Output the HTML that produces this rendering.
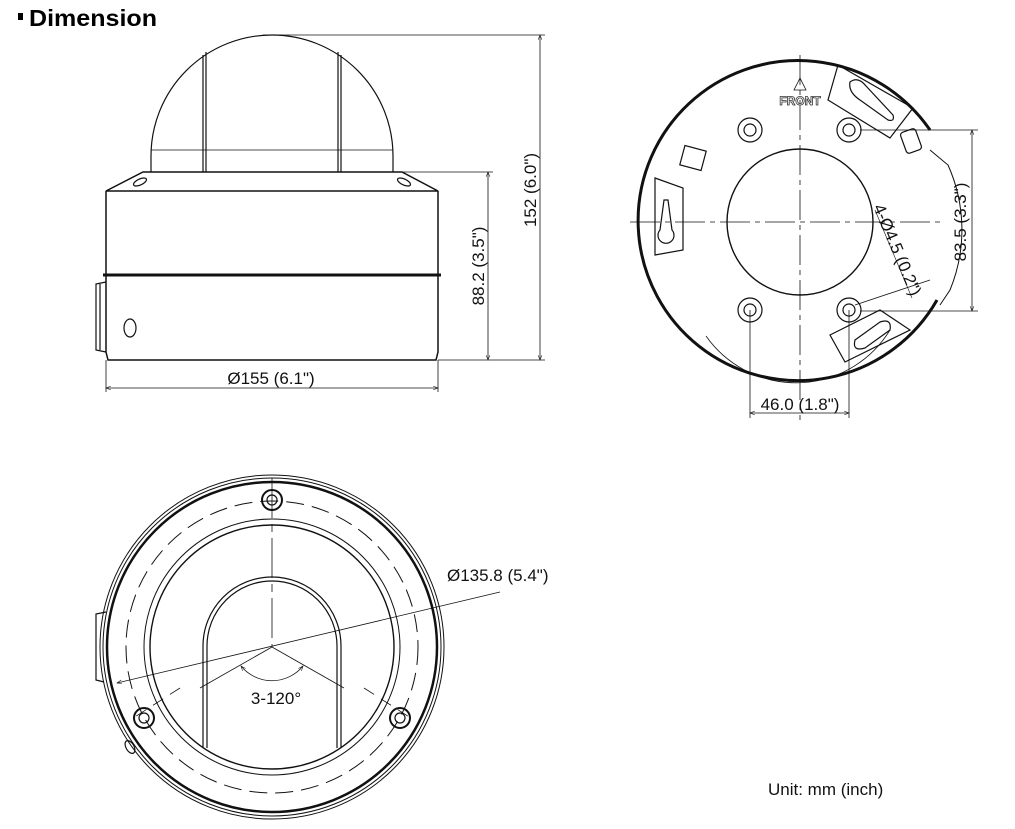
<!DOCTYPE html>
<html><head><meta charset="utf-8"><style>
html,body{margin:0;padding:0;background:#fff;}
svg{display:block;}
text{font-family:"Liberation Sans",sans-serif;fill:#111;}
</style></head><body>
<svg width="1015" height="829" viewBox="0 0 1015 829" xmlns="http://www.w3.org/2000/svg">
<defs>
<marker id="a" viewBox="0 0 10 10" refX="10" refY="5" markerWidth="8" markerHeight="6" orient="auto-start-reverse"><path d="M0,1 L10,5 L0,9" fill="none" stroke="#111" stroke-width="1.2"/></marker>
</defs>
<rect x="18" y="13" width="5" height="7" fill="#000"/>
<text x="29" y="26" font-size="23" font-weight="bold" style="fill:#000" textLength="128" lengthAdjust="spacingAndGlyphs">Dimension</text>

<g fill="none" stroke="#111" stroke-width="1.2">
<!-- side view -->
<path d="M151,172 L151,156 A121,121 0 0 1 393,156 L393,172"/>
<line x1="151" y1="150" x2="393" y2="150" stroke-width="0.8"/>
<line x1="203" y1="55" x2="203" y2="172"/><line x1="206" y1="52" x2="206" y2="172"/>
<line x1="338" y1="52" x2="338" y2="172"/><line x1="341" y1="55" x2="341" y2="172"/>
<path d="M143,172 L402,172 L438,191 L106,191 Z" stroke-width="1.5"/>
<ellipse cx="140" cy="182" rx="7" ry="3" transform="rotate(-25 140 182)"/>
<ellipse cx="404" cy="182" rx="7" ry="3" transform="rotate(25 404 182)"/>
<path d="M106,191 L106,352 L108,360 L436,360 L438,352 L438,191" stroke-width="1.5"/>
<line x1="103" y1="275" x2="441" y2="275" stroke-width="3"/>
<path d="M106,282 L96,284 L96,350 L106,352"/>
<line x1="100" y1="284" x2="100" y2="350"/>
<ellipse cx="130" cy="328" rx="6" ry="9"/>
<!-- dims -->
<line x1="263" y1="35" x2="545" y2="35" stroke-width="0.8"/>
<line x1="438" y1="360" x2="545" y2="360" stroke-width="0.8"/>
<line x1="402" y1="172" x2="493" y2="172" stroke-width="0.8"/>
<line x1="540" y1="35" x2="540" y2="360" stroke-width="0.8" marker-start="url(#a)" marker-end="url(#a)"/>
<line x1="488" y1="172" x2="488" y2="360" stroke-width="0.8" marker-start="url(#a)" marker-end="url(#a)"/>
<line x1="106" y1="360" x2="106" y2="392" stroke-width="0.8"/>
<line x1="438" y1="360" x2="438" y2="392" stroke-width="0.8"/>
<line x1="106" y1="388" x2="438" y2="388" stroke-width="0.8" marker-start="url(#a)" marker-end="url(#a)"/>

<!-- base plate -->
<path d="M930,130 A160,160 0 1 0 937,300" stroke-width="3"/>
<path d="M930,150 L948,165 A158,158 0 0 1 950,290 L940,305" stroke-width="1"/>
<circle cx="800" cy="222" r="73" stroke-width="1.4"/>
<circle cx="750" cy="130" r="12"/><circle cx="750" cy="130" r="6"/>
<circle cx="849" cy="130" r="12"/><circle cx="849" cy="130" r="6"/>
<circle cx="750" cy="310" r="12"/><circle cx="750" cy="310" r="6"/>
<circle cx="849" cy="310" r="12"/><circle cx="849" cy="310" r="6"/>
<path d="M838,65 L913,108 L890,138 L828,100 Z"/>
<path d="M850,82 Q858,76 866,86 L893,115 Q895,122 888,120 L860,100 Q848,92 850,82 Z"/>
<path d="M830,335 L880,310 L910,330 L845,362 Z"/>
<path d="M855,340 L880,322 Q892,318 890,330 L865,348 Q852,352 855,340Z"/>
<path d="M655,178 L683,188 L683,250 L655,255 Z"/>
<path d="M660,230 A8,8 0 1 0 672,230 L668,200 L664,200 Z"/>
<rect x="903" y="130" width="16" height="22" rx="3" transform="rotate(-20 911 141)"/>
<rect x="682" y="148" width="22" height="20" transform="rotate(15 693 158)"/>
<path d="M706,336 A110,110 0 0 0 890,330" stroke-width="0.8"/>
<path d="M800,78 L794,90 L806,90 Z" stroke-width="0.8"/>
<g stroke-width="0.8" stroke-dasharray="30,5,5,5">
<line x1="800" y1="55" x2="800" y2="420"/>
<line x1="630" y1="222" x2="945" y2="222"/>
</g>
<line x1="860" y1="130" x2="978" y2="130" stroke-width="0.8"/>
<line x1="860" y1="311" x2="978" y2="311" stroke-width="0.8"/>
<line x1="972" y1="130" x2="972" y2="311" stroke-width="0.8" marker-start="url(#a)" marker-end="url(#a)"/>
<line x1="750" y1="310" x2="750" y2="418" stroke-width="0.8"/>
<line x1="849" y1="310" x2="849" y2="418" stroke-width="0.8"/>
<line x1="750" y1="413" x2="849" y2="413" stroke-width="0.8" marker-start="url(#a)" marker-end="url(#a)"/>
<line x1="855" y1="305" x2="930" y2="280" stroke-width="0.8"/>
<line x1="875" y1="210" x2="912" y2="298" stroke-width="0.6"/>

<!-- bottom view -->
<circle cx="272" cy="647" r="172" stroke-width="1"/>
<circle cx="272" cy="647" r="169" stroke-width="1"/>
<circle cx="272" cy="647" r="165" stroke-width="2.5"/>
<circle cx="272" cy="647" r="146" stroke-width="1" stroke-dasharray="18,8"/>
<circle cx="272" cy="647" r="128" stroke-width="1"/>
<circle cx="272" cy="647" r="122" stroke-width="1.4"/>
<path d="M203,748 L203,646 A69,69 0 0 1 341,646 L341,748"/>
<path d="M207,748 L207,646 A65,65 0 0 1 337,646 L337,748"/>
<line x1="272" y1="478" x2="272" y2="647" stroke-dasharray="40,6,8,6" stroke-width="0.8"/>
<line x1="272" y1="647" x2="200" y2="688" stroke-width="0.8"/>
<line x1="272" y1="647" x2="344" y2="688" stroke-width="0.8"/>
<line x1="180" y1="688" x2="130" y2="720" stroke-width="0.8" stroke-dasharray="12,8"/>
<line x1="364" y1="688" x2="414" y2="720" stroke-width="0.8" stroke-dasharray="12,8"/>
<path d="M241,666 A40,40 0 0 0 303,666" stroke-width="0.8" marker-start="url(#a)" marker-end="url(#a)"/>
<line x1="117" y1="683" x2="500" y2="592" stroke-width="0.8" marker-start="url(#a)"/>
<circle cx="272" cy="500" r="10" stroke-width="2"/><circle cx="272" cy="500" r="5"/>
<circle cx="144" cy="718" r="10" stroke-width="2"/><circle cx="144" cy="718" r="5"/>
<circle cx="400" cy="718" r="10" stroke-width="2"/><circle cx="400" cy="718" r="5"/>
<path d="M106,612 L96,614 L96,680 L104,682"/>
<ellipse cx="130" cy="747" rx="4" ry="7" transform="rotate(-30 130 747)"/>
</g>

<g font-size="17">
<text x="271" y="384" text-anchor="middle">Ø155 (6.1")</text>
<text transform="translate(536,190) rotate(-90)" text-anchor="middle">152 (6.0")</text>
<text transform="translate(484,266) rotate(-90)" text-anchor="middle">88.2 (3.5")</text>
<text transform="translate(966,222) rotate(-90)" text-anchor="middle">83.5 (3.3")</text>
<text x="800" y="410" text-anchor="middle">46.0 (1.8")</text>
<text transform="translate(873,207) rotate(67)">4-Ø4.5 (0.2")</text>
<text x="447" y="581">Ø135.8 (5.4")</text>
<text x="276" y="704" text-anchor="middle">3-120°</text>
<text x="768" y="795">Unit: mm (inch)</text>
</g>
<text x="800" y="105" font-size="12" font-weight="bold" text-anchor="middle" style="fill:#fff;stroke:#333;stroke-width:0.8">FRONT</text>
</svg>
</body></html>
